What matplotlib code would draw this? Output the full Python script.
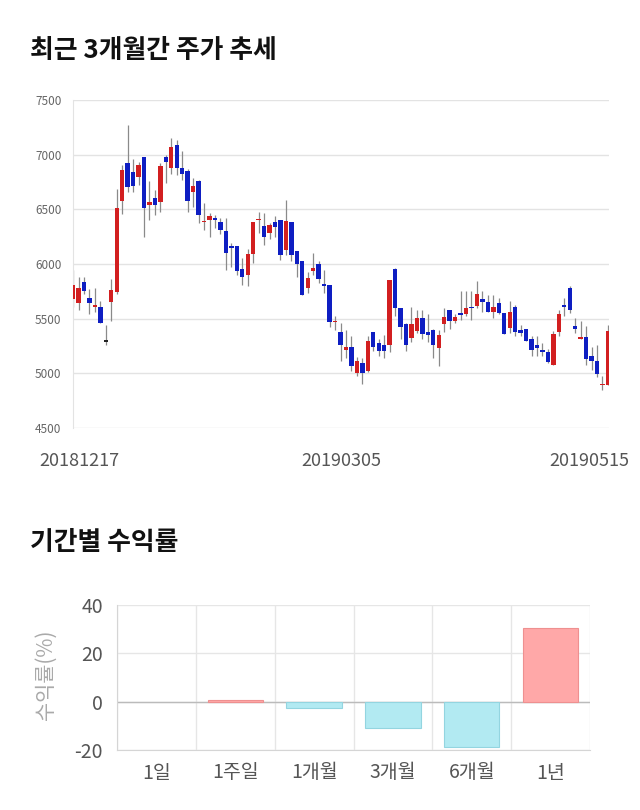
import matplotlib
matplotlib.use('Agg')
import matplotlib.pyplot as plt
from matplotlib import transforms
import numpy as np

plt.rcParams['font.family'] = ['Noto Sans CJK KR', 'DejaVu Sans']

# ---- daily prices ----
opens = [5680, 5645, 5835, 5690, 5605, 5605, 5290, 5650, 5745, 6580,
         6920, 6845, 6795, 6980, 6540, 6600, 6570, 6980, 6880, 7090,
         6880, 6855, 6655, 6755, 6380, 6405, 6415, 6385, 6305, 6165,
         6165, 5955, 5900, 6090, 6400, 6350, 6280, 6385, 6405, 6130,
         6385, 6115, 6030, 5785, 5940, 6000, 5815, 5805, 5465, 5375,
         5210, 5245, 5005, 5090, 5020, 5380, 5275, 5255, 5260, 5955,
         5595, 5455, 5325, 5385, 5505, 5375, 5400, 5230, 5455, 5575,
         5475, 5550, 5545, 5605, 5620, 5680, 5650, 5560, 5645, 5550,
         5415, 5605, 5395, 5405, 5315, 5255, 5215, 5195, 5080, 5375,
         5625, 5785, 5435, 5315, 5330, 5155, 5115, 4895, 4890]
highs = [5945, 5885, 5880, 5775, 5780, 5665, 5440, 5865, 6685, 6905,
         7270, 6960, 6930, 6980, 6755, 6680, 6920, 7000, 7150, 7135,
         7030, 6865, 6785, 6765, 6555, 6465, 6450, 6420, 6420, 6190,
         6165, 6055, 6135, 6385, 6475, 6465, 6375, 6440, 6405, 6585,
         6385, 6115, 6030, 5930, 6100, 6025, 5945, 5805, 5520, 5460,
         5395, 5345, 5150, 5140, 5340, 5380, 5315, 5355, 5855, 5960,
         5595, 5460, 5610, 5575, 5580, 5540, 5405, 5395, 5595, 5580,
         5545, 5755, 5750, 5750, 5840, 5750, 5720, 5715, 5690, 5550,
         5665, 5625, 5445, 5405, 5345, 5345, 5275, 5225, 5385, 5580,
         5690, 5795, 5505, 5475, 5435, 5245, 5255, 4980, 5445]
lows = [5610, 5580, 5730, 5545, 5565, 5460, 5260, 5475, 5730, 6455,
        6655, 6655, 6725, 6250, 6405, 6450, 6480, 6740, 6825, 6815,
        6765, 6475, 6520, 6375, 6315, 6250, 6330, 6275, 5945, 5975,
        5900, 5810, 5795, 6010, 6280, 6175, 6225, 6250, 6040, 6085,
        6030, 5885, 5715, 5735, 5900, 5825, 5735, 5425, 5400, 5110,
        5140, 5020, 4975, 4905, 5010, 5200, 5155, 5140, 5195, 5520,
        5315, 5200, 5290, 5370, 5310, 5290, 5140, 5070, 5375, 5405,
        5460, 5490, 5520, 5490, 5595, 5565, 5560, 5505, 5545, 5360,
        5370, 5345, 5340, 5300, 5160, 5155, 5155, 5095, 5080, 5340,
        5520, 5550, 5370, 5310, 5080, 5035, 4965, 4850, 4890]
closes = [5810, 5785, 5750, 5645, 5625, 5460, 5290, 5765, 6510, 6860,
          6700, 6710, 6905, 6510, 6570, 6540, 6900, 6930, 7070, 6880,
          6825, 6580, 6710, 6450, 6395, 6435, 6405, 6315, 6105, 6145,
          5940, 5880, 6095, 6385, 6415, 6250, 6360, 6335, 6085, 6390,
          6085, 6000, 5715, 5870, 5960, 5860, 5795, 5470, 5480, 5260,
          5245, 5065, 5110, 5005, 5300, 5240, 5200, 5200, 5855, 5595,
          5420, 5260, 5455, 5505, 5360, 5355, 5255, 5355, 5515, 5475,
          5515, 5530, 5595, 5595, 5725, 5650, 5560, 5610, 5550, 5360,
          5565, 5375, 5370, 5300, 5215, 5230, 5195, 5100, 5360, 5545,
          5610, 5575, 5405, 5330, 5130, 5110, 4990, 4905, 5385]

date_ticks = [0, 49, 98]
date_labels = ['20181217', '20190305', '20190515']
price_ticks = [4500, 5000, 5500, 6000, 6500, 7000, 7500]

# ---- period returns ----
periods = ['1일', '1주일', '1개월', '3개월', '6개월', '1년']
returns = [0.0, 0.8, -2.5, -10.8, -18.6, 30.6]
return_ticks = [-20, 0, 20, 40]

UP = '#D21F20'
DOWN = '#0E1EC2'

fig = plt.figure(figsize=(6.4, 8.1), dpi=100)
fig.patch.set_facecolor('white')

# ---------------- top: candlestick ----------------
ax1 = fig.add_axes([72.5 / 640, 1 - 428 / 810, 536 / 640, 328 / 810])
o = np.array(opens, float)
c = np.array(closes, float)
h = np.array(highs, float)
l = np.array(lows, float)
x = np.arange(len(o))
cols = [UP if cc > oo else (DOWN if cc < oo else '#222222') for oo, cc in zip(o, c)]
ax1.vlines(x, l, h, color='#8a8a8a', lw=0.9, zorder=2)
body_bottom = np.minimum(o, c)
body_h = np.maximum(np.abs(c - o), 12)
ax1.bar(x, body_h, bottom=body_bottom, width=0.8, color=cols, lw=0, zorder=3)

ax1.set_ylim(4500, 7500)
ax1.set_xlim(-0.1, len(o) - 0.9)
ax1.set_yticks(price_ticks)
ax1.set_yticklabels([str(t) for t in price_ticks])
ax1.grid(axis='y', color='#e3e3e3', lw=1)
ax1.set_axisbelow(True)
for s in ['top', 'right', 'bottom']:
    ax1.spines[s].set_visible(False)
ax1.spines['left'].set_color('#e3e3e3')
ax1.tick_params(axis='y', length=0, pad=8, labelsize=8.5, labelcolor='#666666')
ax1.set_xticks(date_ticks)
ax1.set_xticklabels(date_labels)
ax1.tick_params(axis='x', length=0, pad=17, labelsize=13, labelcolor='#555555')
offsets = [6.5, 1, -18.5]
for lab, dx in zip(ax1.get_xticklabels(), offsets):
    lab.set_transform(lab.get_transform() + transforms.ScaledTranslation(dx / 100, 0, fig.dpi_scale_trans))

fig.text(30 / 640, 1 - 50 / 810, '최근 3개월간 주가 추세', fontsize=18.6, fontweight='bold',
         va='center', ha='left', color='#111111')

# ---------------- bottom: returns ----------------
ax2 = fig.add_axes([117 / 640, 1 - 750 / 810, 473 / 640, 145 / 810])
bx = np.arange(len(periods))
bcols = ['#FFA8A8' if v >= 0 else '#B2EAF2' for v in returns]
ecols = ['#EE9090' if v >= 0 else '#93D5E0' for v in returns]
elw = [0.8 if v != 0 else 0 for v in returns]
ax2.bar(bx, returns, width=0.7, color=bcols, edgecolor=ecols, linewidth=elw, zorder=3)
ax2.set_xlim(-0.5, len(periods) - 0.5)
ax2.set_ylim(-20, 40)
ax2.set_yticks(return_ticks)
ax2.set_yticklabels([str(t) for t in return_ticks])
ax2.set_xticks(bx)
ax2.set_xticklabels(periods)
ax2.set_xticks(np.arange(len(periods) + 1) - 0.5, minor=True)
ax2.grid(axis='y', which='major', color='#e6e6e6', lw=1)
ax2.grid(axis='x', which='minor', color='#e6e6e6', lw=1)
ax2.axhline(0, color='#bbbbbb', lw=1, zorder=2)
ax2.set_axisbelow(True)
for s in ['top', 'right']:
    ax2.spines[s].set_visible(False)
for s in ['left', 'bottom']:
    ax2.spines[s].set_color('#d5d5d5')
ax2.tick_params(axis='both', which='both', length=0)
ax2.tick_params(axis='y', pad=10, labelsize=14, labelcolor='#555555')
ax2.tick_params(axis='x', pad=9, labelsize=14, labelcolor='#555555')
ax2.set_ylabel('수익률(%)', fontsize=15, color='#aaaaaa')
ax2.yaxis.set_label_coords(-0.128, 0.52)

fig.text(30 / 640, 1 - 542 / 810, '기간별 수익률', fontsize=18.6, fontweight='bold',
         va='center', ha='left', color='#111111')

fig.savefig('out.png', dpi=100, facecolor='white')
